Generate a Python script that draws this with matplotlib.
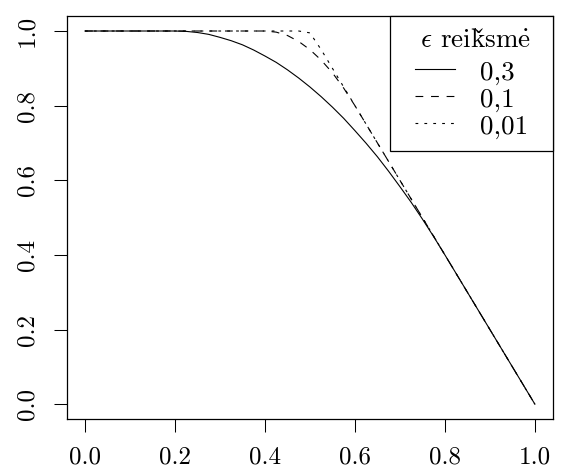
import matplotlib
matplotlib.use("Agg")
import matplotlib.pyplot as plt

plt.rcParams['font.family'] = ['cmr10', 'STIXGeneral', 'DejaVu Serif']
plt.rcParams['mathtext.fontset'] = 'cm'
plt.rcParams['axes.formatter.use_mathtext'] = True

# x tinklelis
x = [0.0, 0.025, 0.05, 0.075, 0.1, 0.125, 0.15, 0.175, 0.2, 0.225,
     0.25, 0.275, 0.3, 0.325, 0.35, 0.375, 0.4, 0.425, 0.45, 0.475,
     0.5, 0.525, 0.55, 0.575, 0.6, 0.625, 0.65, 0.675, 0.7, 0.725,
     0.75, 0.775, 0.8, 0.825, 0.85, 0.875, 0.9, 0.925, 0.95, 0.975, 1.0]

# eps = 0.3
y_03 = [1, 1, 1, 1, 1, 1, 1, 1, 1, 0.999,
        0.996, 0.991, 0.983, 0.974, 0.963, 0.949, 0.933, 0.916, 0.896, 0.874,
        0.850, 0.824, 0.796, 0.766, 0.733, 0.699, 0.663, 0.624, 0.583, 0.541,
        0.496, 0.449, 0.400, 0.350, 0.300, 0.250, 0.200, 0.150, 0.100, 0.050, 0.0]

# eps = 0.1
y_01 = [1, 1, 1, 1, 1, 1, 1, 1, 1, 1,
        1, 1, 1, 1, 1, 1, 1, 0.997, 0.988, 0.972,
        0.950, 0.922, 0.888, 0.847, 0.800, 0.750, 0.700, 0.650, 0.600, 0.550,
        0.500, 0.450, 0.400, 0.350, 0.300, 0.250, 0.200, 0.150, 0.100, 0.050, 0.0]

# eps = 0.01
y_001 = [1, 1, 1, 1, 1, 1, 1, 1, 1, 1,
         1, 1, 1, 1, 1, 1, 1, 1, 1, 1,
         0.995, 0.950, 0.900, 0.850, 0.800, 0.750, 0.700, 0.650, 0.600, 0.550,
         0.500, 0.450, 0.400, 0.350, 0.300, 0.250, 0.200, 0.150, 0.100, 0.050, 0.0]

labels = ["0,3", "0,1", "0,01"]
ticks = [0.0, 0.2, 0.4, 0.6, 0.8, 1.0]
# "reikšmė" - caron pastumtas tarpu, kad butu virs s
title = r"  $\epsilon$ reik$\mathrm{\check{{s\ }}\!\!}$m$\mathrm{\dot{e}}$  "

fig = plt.figure(figsize=(5.63, 4.73), dpi=100)
ax = fig.add_axes([0.119, 0.114, 0.863, 0.852])

lw = 0.8
ax.plot(x, y_03, color='black', lw=lw, label=labels[0])
ax.plot(x, y_01, color='black', lw=lw, linestyle=(0, (7, 7)), label=labels[1])
ax.plot(x, y_001, color='black', lw=lw, linestyle=(0, (2.5, 5.5)), label=labels[2])

ax.set_xlim(-0.04, 1.04)
ax.set_ylim(-0.04, 1.04)
ax.set_xticks(ticks)
ax.set_yticks(ticks)
ax.set_xticklabels([f"{t:.1f}" for t in ticks])
ax.set_yticklabels([f"{t:.1f}" for t in ticks], rotation=90, va='center')
ax.tick_params(axis='both', direction='out', length=9.5, width=0.75, labelsize=18)
ax.tick_params(axis='x', pad=10)
ax.tick_params(axis='y', pad=11)
for s in ax.spines.values():
    s.set_linewidth(0.9)

leg = ax.legend(title=title, loc='upper right', borderaxespad=0,
                fancybox=False, edgecolor='black', fontsize=19.5, title_fontsize=19.5,
                handlelength=1.5, handletextpad=0.9, labelspacing=0.05,
                handleheight=0.9, borderpad=0.45)
leg._legend_box.sep = 5  # didesnis tarpas po pavadinimu
leg.get_frame().set_linewidth(0.9)
leg.get_frame().set_alpha(1)

fig.savefig("out.png", dpi=100)
